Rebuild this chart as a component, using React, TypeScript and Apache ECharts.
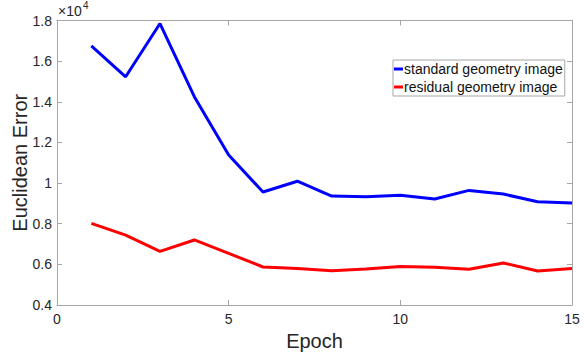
import React, { useEffect, useRef } from "react";
import * as echarts from "echarts";

const epochs = [1, 2, 3, 4, 5, 6, 7, 8, 9, 10, 11, 12, 13, 14, 15];
const standardGeometry = [16750, 15230, 17850, 14250, 11380, 9560, 10090, 9360, 9330, 9400, 9220, 9640, 9460, 9080, 9020];
const residualGeometry = [8020, 7440, 6640, 7200, 6540, 5870, 5800, 5690, 5770, 5890, 5860, 5760, 6070, 5670, 5800];
const seriesNames = ["standard geometry image", "residual geometry image"];
const seriesColors = ["#0000ff", "#ff0000"];

const FONT = "Liberation Sans, Arial, sans-serif";

export default function App() {
  const ref = useRef<HTMLDivElement>(null);
  useEffect(() => {
    if (!ref.current) return;
    const chart = echarts.init(ref.current, undefined, { renderer: "svg" });
    const axisLineColor = "#a6a6a6";
    const labelColor = "#262626";
    chart.setOption({
      animation: false,
      backgroundColor: "#ffffff",
      textStyle: { fontFamily: FONT },
      grid: { left: 57, right: 15, top: 20.5, bottom: 50, containLabel: false, outerBoundsMode: "none" },
      legend: {
        data: seriesNames,
        left: 393,
        top: 60,
        orient: "vertical",
        icon: "rect",
        itemWidth: 9,
        itemHeight: 3,
        itemGap: 4,
        padding: [2, 2, 2, 1],
        borderColor: "#a6a6a6",
        borderWidth: 1,
        backgroundColor: "#ffffff",
        textStyle: { fontFamily: FONT, fontSize: 14, color: "#111", padding: [0, 0, 0, -4] },
      },
      xAxis: [
        {
          type: "value",
          min: 0,
          max: 15,
          interval: 5,
          name: "Epoch",
          nameLocation: "middle",
          nameGap: 26,
          nameMoveOverlap: false,
          nameTextStyle: { fontFamily: FONT, fontSize: 20, color: labelColor },
          axisLine: { show: true, onZero: false, lineStyle: { color: axisLineColor, width: 1 } },
          axisTick: { show: true, inside: true, length: 5, lineStyle: { color: axisLineColor } },
          axisLabel: { fontFamily: FONT, fontSize: 14, color: labelColor, margin: 7 },
          splitLine: { show: false },
        },
        {
          type: "value",
          position: "top",
          min: 0,
          max: 15,
          interval: 5,
          axisLine: { show: true, onZero: false, lineStyle: { color: axisLineColor, width: 1 } },
          axisTick: { show: true, inside: true, length: 5, lineStyle: { color: axisLineColor } },
          axisLabel: { show: false },
          splitLine: { show: false },
        },
      ],
      yAxis: [
        {
          type: "value",
          min: 4000,
          max: 18000,
          interval: 2000,
          name: "Euclidean Error",
          nameLocation: "middle",
          nameGap: 27,
          nameMoveOverlap: false,
          nameTextStyle: { fontFamily: FONT, fontSize: 20, color: labelColor },
          axisLine: { show: true, onZero: false, lineStyle: { color: axisLineColor, width: 1 } },
          axisTick: { show: true, inside: true, length: 5, lineStyle: { color: axisLineColor } },
          axisLabel: {
            fontFamily: FONT,
            fontSize: 14,
            color: labelColor,
            margin: 5,
            formatter: (v: number) => String(Math.round(v / 1000) / 10),
          },
          splitLine: { show: false },
        },
        {
          type: "value",
          position: "right",
          min: 4000,
          max: 18000,
          interval: 2000,
          axisLine: { show: true, onZero: false, lineStyle: { color: axisLineColor, width: 1 } },
          axisTick: { show: true, inside: true, length: 5, lineStyle: { color: axisLineColor } },
          axisLabel: { show: false },
          splitLine: { show: false },
        },
      ],
      graphic: [
        {
          type: "text",
          left: 58,
          top: 4,
          style: { text: "×10", fontFamily: FONT, fontSize: 14, fill: labelColor },
        },
        {
          type: "text",
          left: 83,
          top: 0,
          style: { text: "4", fontFamily: FONT, fontSize: 10, fill: labelColor },
        },
      ],
      series: [
        {
          name: seriesNames[0],
          type: "line",
          data: epochs.map((e, i) => [e, standardGeometry[i]]),
          showSymbol: false,
          symbol: "none",
          lineStyle: { color: seriesColors[0], width: 3 },
          itemStyle: { color: seriesColors[0] },
        },
        {
          name: seriesNames[1],
          type: "line",
          data: epochs.map((e, i) => [e, residualGeometry[i]]),
          showSymbol: false,
          symbol: "none",
          lineStyle: { color: seriesColors[1], width: 3 },
          itemStyle: { color: seriesColors[1] },
        },
      ],
    });
    return () => chart.dispose();
  }, []);
  return (
    <div
      ref={ref}
      style={{ position: "absolute", left: 0, top: 0, width: 587, height: 355 }}
    />
  );
}
